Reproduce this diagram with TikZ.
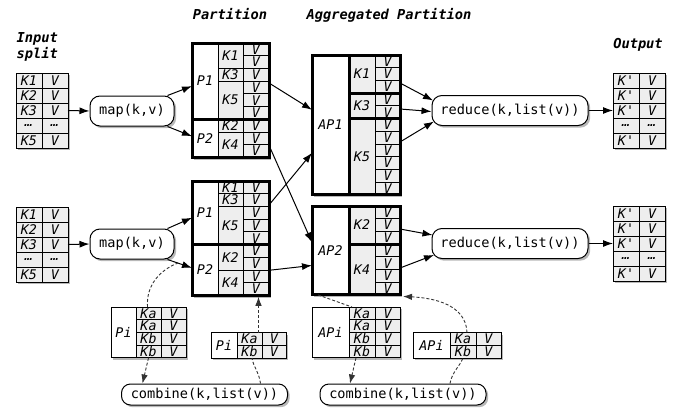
\documentclass[tikz,border=0pt]{standalone}
\usepackage{fontspec}
\setmainfont{DejaVu Sans}
\setmonofont{DejaVu Sans Mono}
\usetikzlibrary{arrows.meta,shadows}
\definecolor{cellgray}{HTML}{EEEEEE}
\definecolor{dashcol}{HTML}{333333}
\newcommand\labfont{\fontsize{13.3}{13.3}\selectfont\ttfamily\itshape}
\newcommand\procfont{\fontsize{13.6}{14}\selectfont\ttfamily}
\newcommand\titlefont{\fontsize{13.7}{16}\selectfont\ttfamily\bfseries\itshape}
\tikzset{
  sh/.style={drop shadow={shadow xshift=2.2pt, shadow yshift=-2.2pt, opacity=0.28, fill=black}},
  tablebg/.style={sh, fill=white, draw=none, inner sep=0pt, outer sep=0pt, anchor=north west},
  cell/.style={draw, line width=0.8pt, fill=cellgray, inner sep=0pt, outer sep=0pt, anchor=north west, font=\labfont},
  wcell/.style={cell, fill=white},
  frame/.style={line width=3pt},
  proc/.style={draw, line width=1pt, rounded corners=10pt, fill=white, sh, font=\procfont, inner sep=0pt, minimum height=30pt},
  comb/.style={proc, rounded corners=9pt, minimum height=21pt, minimum width=166pt},
  arr/.style={line width=1pt, -{Latex[length=10pt,width=7pt]}},
  dline/.style={dashcol, line width=0.9pt, dash pattern=on 3pt off 2pt},
  darr/.style={dline, -{Latex[length=9pt,width=6.5pt]}},
  title/.style={font=\titlefont, inner sep=0pt, align=left},
}
\newcommand\cellat[6]{\node[cell, minimum width=#4pt, minimum height=#5pt] (#1) at (#2,#3) {#6};}
\newcommand\wcellat[6]{\node[wcell, minimum width=#4pt, minimum height=#5pt] (#1) at (#2,#3) {#6};}
\newcommand\bgat[5]{\node[tablebg, minimum width=#4pt, minimum height=#5pt] (#1) at (#2,#3) {};}
\newcommand\kvtab[4]{%
  \bgat{#1}{#2}{#3}{52}{75}
  \foreach \kk/\vv [count=\rr from 0] in {#4}{
    \node[cell, minimum width=26pt, minimum height=15pt] (#1k\rr) at (#2,{#3+15*\rr}) {\kk};
    \node[cell, minimum width=26pt, minimum height=15pt] (#1v\rr) at ({#2+26},{#3+15*\rr}) {\vv};
  }
}
\begin{document}
\begin{tikzpicture}[x=1pt,y=-1pt]
\useasboundingbox (0,0) rectangle (678,410);

% titles
\node[title] (tin) at (37.3,46.6) {Input\\split};
\node[title, anchor=base] (tpart) at (230,19.5) {Partition};
\node[title, anchor=base] (tagg) at (389,19.5) {Aggregated Partition};
\node[title, anchor=base] (tout) at (638,48.5) {Output};

% input / output tables
\kvtab{in1}{16}{73}{K1/V,K2/V,K3/V,…/…,K5/V}
\kvtab{in2}{16}{207}{K1/V,K2/V,K3/V,…/…,K5/V}
\kvtab{out1}{613}{73}{K'/V,K'/V,K'/V,…/…,K'/V}
\kvtab{out2}{613}{206}{K'/V,K'/V,K'/V,…/…,K'/V}

% process nodes
\node[proc, minimum width=84pt] (map1) at (132,111) {map(k,v)};
\node[proc, minimum width=84pt] (map2) at (132,244) {map(k,v)};
\node[proc, minimum width=156pt] (red1) at (510,110.5) {reduce(k,list(v))};
\node[proc, minimum width=156pt] (red2) at (510,243.5) {reduce(k,list(v))};
\node[comb] (comb1) at (204.5,394.5) {combine(k,list(v))};
\node[comb] (comb2) at (403,394.5) {combine(k,list(v))};

% partition block 1
\bgat{b1}{192}{43}{77}{114.3}
\wcellat{b1p1}{192}{43}{26}{76.2}{P1}
\wcellat{b1p2}{192}{119.2}{26}{38.1}{P2}
\cellat{b1k1}{218}{43}{25}{25.4}{K1}
\cellat{b1k3}{218}{68.4}{25}{12.7}{K3}
\cellat{b1k5}{218}{81.1}{25}{38.1}{K5}
\cellat{b1k2}{218}{119.2}{25}{12.7}{K2}
\cellat{b1k4}{218}{131.9}{25}{25.4}{K4}
\foreach \rr in {0,...,8} {\node[cell, minimum width=26pt, minimum height=12.7pt] (b1v\rr) at (243,{43+12.7*\rr}) {V};}
\draw[frame] (b1.north west) rectangle (b1.south east);
\draw[frame] (b1p2.north west) -- (b1p2.north west -| b1.east);

% partition block 2
\bgat{b2}{192}{181}{77}{114.3}
\wcellat{b2p1}{192}{181}{26}{63.5}{P1}
\wcellat{b2p2}{192}{244.5}{26}{50.8}{P2}
\cellat{b2k1}{218}{181}{25}{12.7}{K1}
\cellat{b2k3}{218}{193.7}{25}{12.7}{K3}
\cellat{b2k5}{218}{206.4}{25}{38.1}{K5}
\cellat{b2k2}{218}{244.5}{25}{25.4}{K2}
\cellat{b2k4}{218}{269.9}{25}{25.4}{K4}
\foreach \rr in {0,...,8} {\node[cell, minimum width=26pt, minimum height=12.7pt] (b2v\rr) at (243,{181+12.7*\rr}) {V};}
\draw[frame] (b2.north west) rectangle (b2.south east);
\draw[frame] (b2p2.north west) -- (b2p2.north west -| b2.east);

% aggregated partition 1
\bgat{a1}{312}{55}{88}{139.7}
\wcellat{a1p}{312}{55}{37}{139.7}{AP1}
\cellat{a1k1}{349}{55}{26}{38.1}{K1}
\cellat{a1k3}{349}{93.1}{26}{25.4}{K3}
\cellat{a1k5}{349}{118.5}{26}{76.2}{K5}
\foreach \rr in {0,...,10} {\node[cell, minimum width=25pt, minimum height=12.7pt] (a1v\rr) at (375,{55+12.7*\rr}) {V};}
\draw[frame] (a1.north west) rectangle (a1.south east);
\draw[frame] (a1p.north east) -- (a1p.south east);
\draw[frame] (a1k3.north west) -- (a1k3.north west -| a1.east);
\draw[frame] (a1k5.north west) -- (a1k5.north west -| a1.east);

% aggregated partition 2
\bgat{a2}{312}{206}{88}{88.9}
\wcellat{a2p}{312}{206}{37}{88.9}{AP2}
\cellat{a2k2}{349}{206}{26}{38.1}{K2}
\cellat{a2k4}{349}{244.1}{26}{50.8}{K4}
\foreach \rr in {0,...,6} {\node[cell, minimum width=25pt, minimum height=12.7pt] (a2v\rr) at (375,{206+12.7*\rr}) {V};}
\draw[frame] (a2.north west) rectangle (a2.south east);
\draw[frame] (a2p.north east) -- (a2p.south east);
\draw[frame] (a2k4.north west) -- (a2k4.north west -| a2.east);

% combiner tables
\bgat{pib}{111}{307}{75}{50.8}
\wcellat{pibp}{111}{307}{25}{50.8}{Pi}
\foreach \kk [count=\rr from 0] in {Ka,Ka,Kb,Kb} {
  \node[cell, minimum width=25pt, minimum height=12.7pt] (pibk\rr) at (136,{307+12.7*\rr}) {\kk};
  \node[cell, minimum width=25pt, minimum height=12.7pt] (pibv\rr) at (161,{307+12.7*\rr}) {V};}
\bgat{pis}{211}{332.6}{75}{25.4}
\wcellat{pisp}{211}{332.6}{26}{25.4}{Pi}
\foreach \kk [count=\rr from 0] in {Ka,Kb} {
  \node[cell, minimum width=25pt, minimum height=12.7pt] (pisk\rr) at (237,{332.6+12.7*\rr}) {\kk};
  \node[cell, minimum width=24pt, minimum height=12.7pt] (pisv\rr) at (262,{332.6+12.7*\rr}) {V};}
\bgat{apib}{312}{307}{88}{50.8}
\wcellat{apibp}{312}{307}{37}{50.8}{APi}
\foreach \kk [count=\rr from 0] in {Ka,Ka,Kb,Kb} {
  \node[cell, minimum width=26pt, minimum height=12.7pt] (apibk\rr) at (349,{307+12.7*\rr}) {\kk};
  \node[cell, minimum width=25pt, minimum height=12.7pt] (apibv\rr) at (375,{307+12.7*\rr}) {V};}
\bgat{apis}{413}{332.6}{88}{25.4}
\wcellat{apisp}{413}{332.6}{37}{25.4}{APi}
\foreach \kk [count=\rr from 0] in {Ka,Kb} {
  \node[cell, minimum width=26pt, minimum height=12.7pt] (apisk\rr) at (450,{332.6+12.7*\rr}) {\kk};
  \node[cell, minimum width=25pt, minimum height=12.7pt] (apisv\rr) at (476,{332.6+12.7*\rr}) {V};}

% solid connectors
\draw[arr] (in1v2.east) -- (map1.west);
\draw[arr] (in2v2.east) -- (map2.west);
\draw[arr] ([xshift=-7pt]map1.north east) -- ([yshift=-5pt]b1p1.west);
\draw[arr] ([xshift=-7pt]map1.south east) -- ([yshift=2pt]b1p2.west);
\draw[arr] ([xshift=-7pt]map2.north east) -- ([yshift=-5pt]b2p1.west);
\draw[arr] ([xshift=-7pt]map2.south east) -- ([yshift=2pt]b2p2.west);
\draw[arr] ([yshift=-40pt]b1.north east) -- ([yshift=15pt]a1.west);
\draw[arr] ([yshift=12pt]b1.south east) -- ([yshift=8pt]a2.west);
\draw[arr] ([yshift=-24pt]b2.north east) -- ([yshift=-28pt]a1.west);
\draw[arr] ([yshift=25pt]b2.south east) -- ([yshift=-15pt]a2.west);
\draw[arr] ([yshift=-28pt]a1.north east) -- ([xshift=1.5pt,yshift=10pt]red1.west);
\draw[arr] ([yshift=-54pt]a1.north east) -- ([yshift=-1pt]red1.west);
\draw[arr] ([yshift=-87pt]a1.north east) -- ([xshift=2.5pt,yshift=-11pt]red1.west);
\draw[arr] ([yshift=-23pt]a2.north east) -- ([xshift=1pt,yshift=8.5pt]red2.west);
\draw[arr] ([yshift=-62pt]a2.north east) -- ([xshift=2.5pt,yshift=-11.5pt]red2.west);
\draw[arr] (red1.east) -- (out1k2.west);
\draw[arr] (red2.east) -- (out2k2.west);

% dashed connectors
\coordinate (mp2) at (178,263);
\draw[dline] ([xshift=-1pt]pibk0.north) .. controls (146,285) and (160,270) .. (mp2);
\draw[darr] (pibk3.south) -- ([xshift=-62pt]comb1.north);
\draw[dline] ([xshift=56pt]comb1.north) .. controls (259,372) and (253,366) .. ([xshift=2.5pt]pisk1.south);
\draw[darr] ([xshift=9pt]pisk0.north) -- ([xshift=28pt,yshift=-1.5pt]b2.south);
\draw[dline] ([xshift=6pt]a2.south west) -- ([xshift=3pt]apibk0.north west);
\draw[darr] ([xshift=-6pt]apibk3.south) -- ([xshift=-53pt]comb2.north);
\draw[dline] ([xshift=47pt]comb2.north) .. controls (452,372) and (460,366) .. (apisk1.south);
\draw[darr] ([xshift=4pt]apisk0.north) .. controls (466,305) and (435,298) .. ([xshift=3pt,yshift=-1.5pt]a2.south east);
\end{tikzpicture}
\end{document}
